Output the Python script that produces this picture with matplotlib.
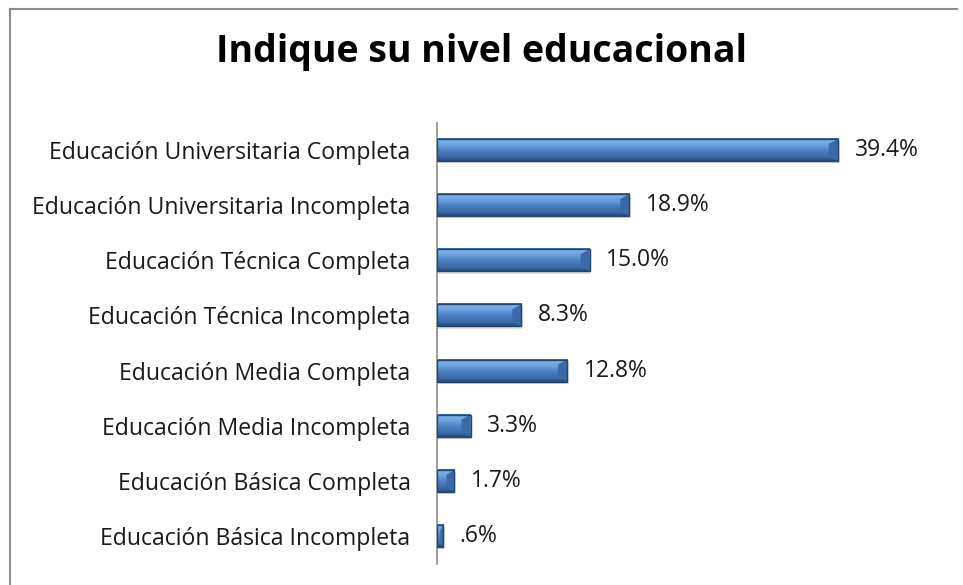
import matplotlib
matplotlib.use("Agg")
import matplotlib.pyplot as plt
import numpy as np
from matplotlib.colors import LinearSegmentedColormap
from matplotlib.lines import Line2D
from matplotlib.patches import Polygon

categories = [
    "Educación Universitaria Completa",
    "Educación Universitaria Incompleta",
    "Educación Técnica Completa",
    "Educación Técnica Incompleta",
    "Educación Media Completa",
    "Educación Media Incompleta",
    "Educación Básica Completa",
    "Educación Básica Incompleta",
]
values = [39.4, 18.9, 15.0, 8.3, 12.8, 3.3, 1.7, 0.6]
value_labels = ["39.4%", "18.9%", "15.0%", "8.3%", "12.8%", "3.3%", "1.7%", ".6%"]
title = "Indique su nivel educacional"

plt.rcParams['font.family'] = ['Open Sans', 'DejaVu Sans']

fig = plt.figure(figsize=(9.63, 5.85), dpi=100)
W, H = 963, 585
ax = fig.add_axes([437 / W, 1 - 563.5 / H, 458 / W, 441 / H])

n = len(categories)
ypos = np.arange(n)
bh = 0.40

cmap = LinearSegmentedColormap.from_list(
    "bev", [(0.0, "#2d5a94"), (0.08, "#80b4ec"), (0.3, "#6aa1de"),
            (0.55, "#4a80c2"), (0.85, "#3a69a6"), (1.0, "#244877")])
grad = np.linspace(0, 1, 64).reshape(-1, 1)

for y, v in zip(ypos, values):
    top, bot = y - bh / 2, y + bh / 2
    ax.barh(y + 0.04, v + 0.15, height=bh, color='#000000', alpha=0.12,
            linewidth=0, zorder=1)
    ax.imshow(grad, cmap=cmap, aspect='auto', extent=(0, v, bot, top),
              zorder=2, interpolation='bilinear')
    b = min(0.9, v * 0.45)
    d = bh * 0.22
    ax.add_patch(Polygon([(v - b, top + d), (v, top), (v, bot), (v - b, bot - d)],
                         closed=True, facecolor='#3a6aa8', edgecolor='none', zorder=2.5))
    ax.barh(y, v, height=bh, color='none', edgecolor='#24466f', linewidth=1.0, zorder=3)

for y, v, lab in zip(ypos, values, value_labels):
    ax.annotate(lab, (v, y), xytext=(12, 0), textcoords='offset points',
                va='center', ha='left', fontsize=16.5, color='#1a1a1a')

ax.set_xlim(0, 45)
ax.set_ylim(n - 0.5, -0.5)
ax.set_yticks(ypos)
ax.set_yticklabels(categories, fontsize=16.6, color='#1a1a1a')
ax.tick_params(axis='y', length=0, pad=19)
ax.set_xticks([])
for s in ['top', 'right', 'bottom']:
    ax.spines[s].set_visible(False)
ax.spines['left'].set_color('#8c8c8c')
ax.spines['left'].set_linewidth(1.2)

fig.text(481 / W, 1 - 52 / H, title, ha='center', va='center',
         fontsize=27, fontweight='bold', color='black')

fig.add_artist(Line2D([10 / W, 957 / W], [1 - 9 / H, 1 - 9 / H], transform=fig.transFigure,
                      color='#8c8c8c', linewidth=1.5))
fig.add_artist(Line2D([10 / W, 10 / W], [1 - 9 / H, 0], transform=fig.transFigure,
                      color='#8c8c8c', linewidth=1.5))

fig.savefig("out.png", dpi=100)
